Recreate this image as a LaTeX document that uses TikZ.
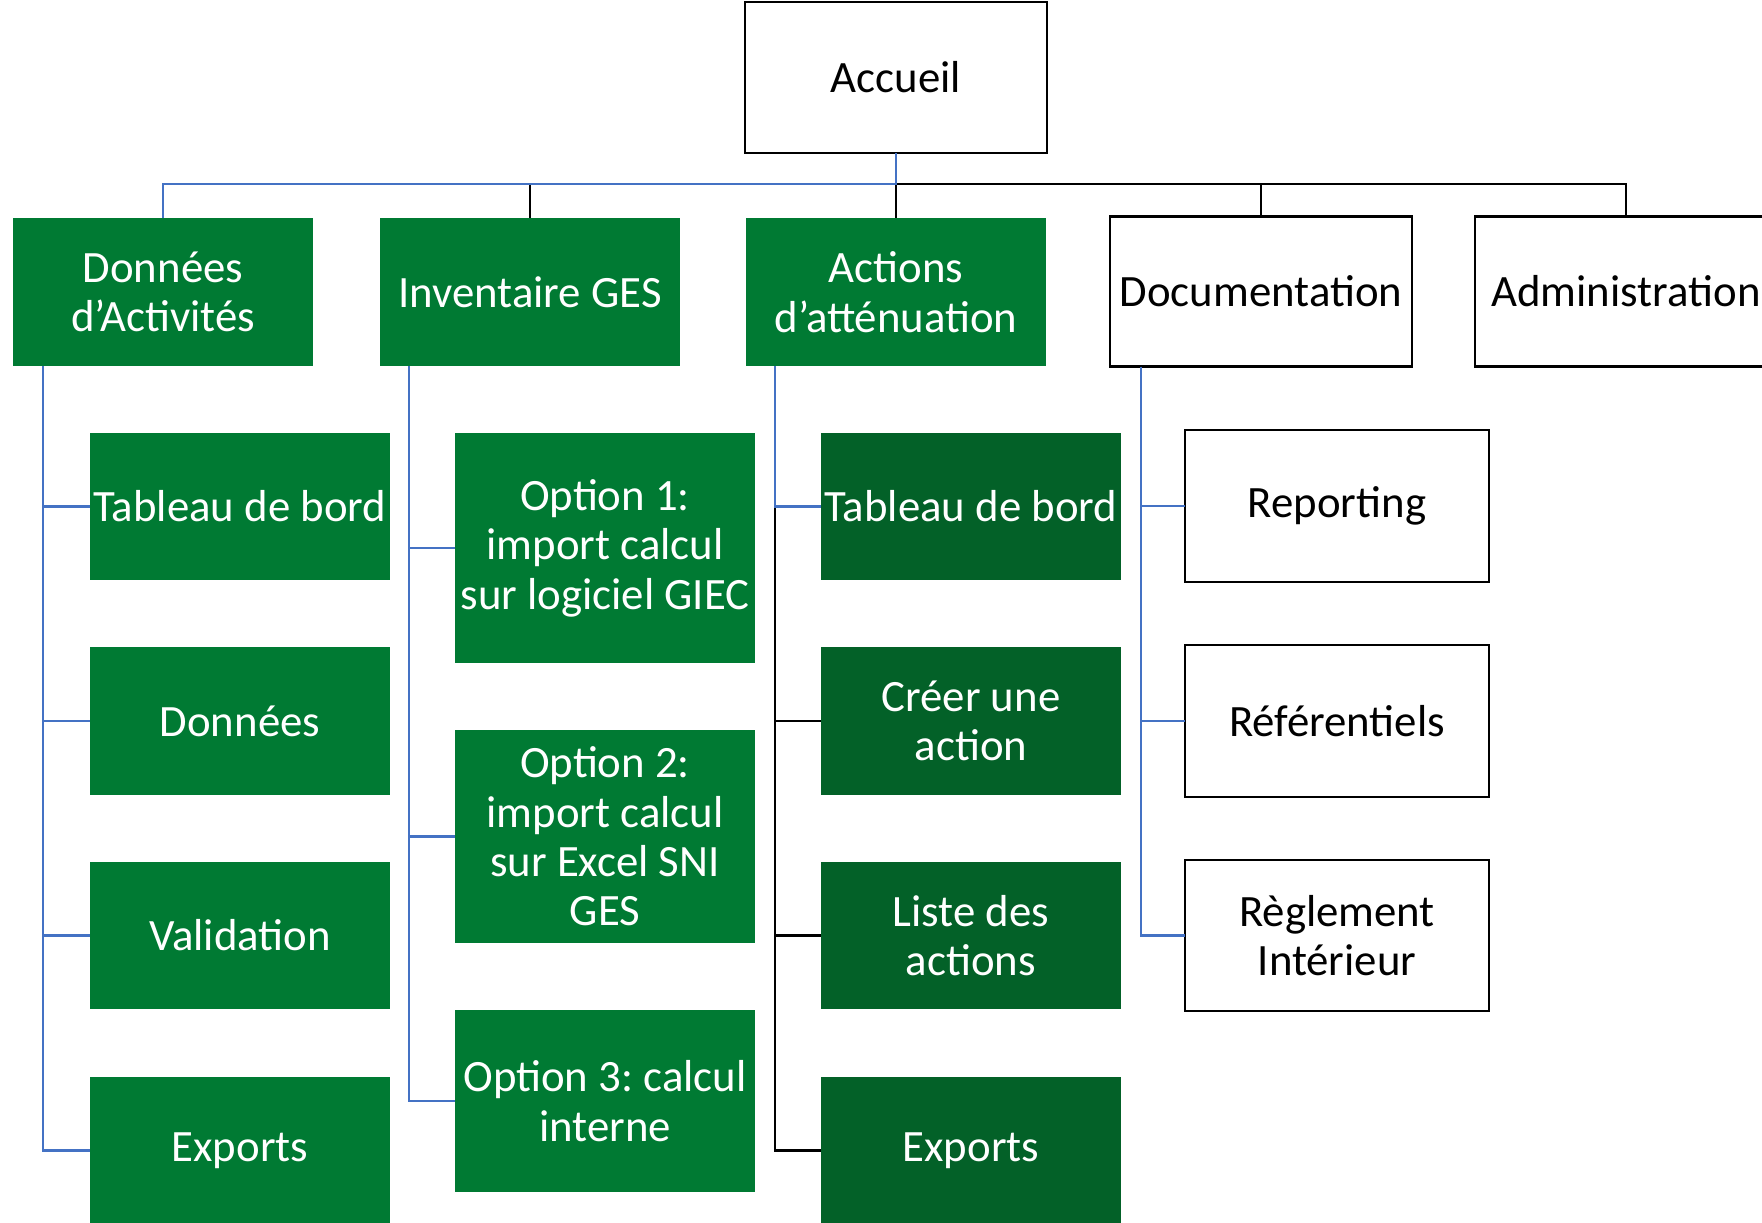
\documentclass[tikz,border=0pt]{standalone}
\usepackage{fontspec}
\setmainfont{Carlito}
\frenchspacing
\definecolor{cgreen}{HTML}{007A33}
\definecolor{cdgreen}{HTML}{036128}
\definecolor{cblue}{HTML}{4472C4}
\begin{document}
\begin{tikzpicture}[x=0.5pt,y=-0.5pt,
  every node/.style={inner sep=0pt, outer sep=0pt, align=center, font=\fontsize{22.4}{24.7}\selectfont},
  gbox/.style={fill=cgreen, text=white, minimum width=150pt, minimum height=74pt},
  dbox/.style={fill=cdgreen, text=white, minimum width=150pt, minimum height=73.5pt},
  wbox/.style={draw=black, line width=1.4pt, fill=white, text=black, minimum width=151pt, minimum height=75pt},
  bl/.style={draw=cblue, line width=1.2pt},
  bk/.style={draw=black, line width=1.2pt}]
\path[use as bounding box, clip] (0,0) rectangle (1762,1222);
\fill[white] (0,0) rectangle (1762,1222);
% top level
\node[wbox, minimum width=151pt, minimum height=75.5pt] (acc) at (896,77.5) {Accueil};
\node[gbox] (da) at (163,292) {Données\\d’Activités};
\node[gbox] (ig) at (530,292) {Inventaire GES};
\node[gbox] (aa) at (896,292) {Actions\\d’atténuation};
\node[wbox] (doc) at (1261,291.5) {Documentation};
\node[wbox] (adm) at (1626,291.5) {Administration};
% column 1
\node[gbox, minimum height=73.5pt] (a1) at (240,506.5) {Tableau de bord};
\node[gbox, minimum height=74pt] (a2) at (240,721) {Données};
\node[gbox, minimum height=73.5pt] (a3) at (240,935.5) {Validation};
\node[gbox, minimum height=73.5pt] (a4) at (240,1150.5) {Exports};
% column 2
\node[gbox, minimum height=115pt] (b1) at (605,548) {Option 1:\\import calcul\\sur logiciel GIEC};
\node[gbox, minimum height=106.5pt] (b2) at (605,836.5) {Option 2:\\import calcul\\sur Excel SNI\\GES};
\node[gbox, minimum height=91pt] (b3) at (605,1101) {Option 3: calcul\\interne};
% column 3
\node[dbox] (c1) at (971,506.5) {Tableau de bord};
\node[dbox, minimum height=74pt] (c2) at (971,721) {Créer une\\action};
\node[dbox] (c3) at (971,935.5) {Liste des\\actions};
\node[dbox] (c4) at (971,1150.5) {Exports};
% column 4
\node[wbox, minimum width=152pt, minimum height=76pt] (d1) at (1337,506) {Reporting};
\node[wbox, minimum width=152pt, minimum height=76pt] (d2) at (1337,721) {Référentiels};
\node[wbox, minimum width=152pt, minimum height=75.5pt] (d3) at (1337,935.5) {Règlement\\Intérieur};
% top connectors
\draw[bk] (acc.south) ++(0,31) coordinate (bus) -| (adm.north);
\draw[bk] (bus -| ig.north) -- (ig.north);
\draw[bk] (bus) -- (aa.north);
\draw[bk] (bus -| doc.north) -- (doc.north);
\draw[bl] (acc.south) -- (bus) -| (da.north);
% column 1 connectors
\coordinate (v1) at ([xshift=15pt]da.south west);
\draw[bl] (v1) |- (a4.west);
\draw[bl] (a1.west -| v1) -- (a1.west);
\draw[bl] (a2.west -| v1) -- (a2.west);
\draw[bl] (a3.west -| v1) -- (a3.west);
% column 2 connectors
\coordinate (v2) at ([xshift=14.5pt]ig.south west);
\draw[bl] (v2) |- (b3.west);
\draw[bl] (b1.west -| v2) -- (b1.west);
\draw[bl] (b2.west -| v2) -- (b2.west);
% column 3 connectors
\coordinate (v3) at ([xshift=14.5pt]aa.south west);
\draw[bk] (c1.west -| v3) |- (c4.west);
\draw[bk] (c2.west -| v3) -- (c2.west);
\draw[bk] (c3.west -| v3) -- (c3.west);
\draw[bl] (v3) |- (c1.west);
% column 4 connectors
\coordinate (v4) at ([xshift=15.5pt]doc.south west);
\draw[bl] (v4) |- (d3.west);
\draw[bl] (d1.west -| v4) -- (d1.west);
\draw[bl] (d2.west -| v4) -- (d2.west);
\end{tikzpicture}
\end{document}
